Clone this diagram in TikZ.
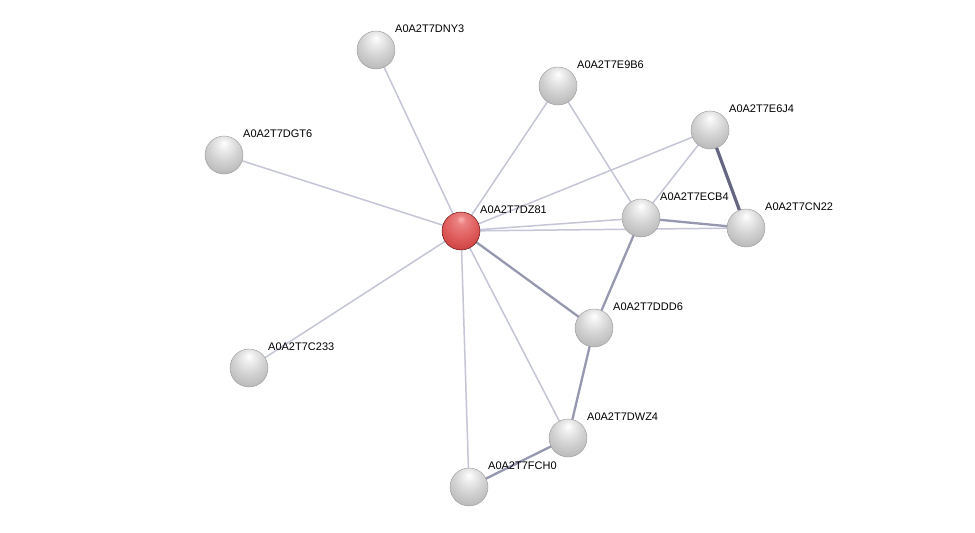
\documentclass[tikz,border=0pt]{standalone}
\usepackage{fontspec}
\setmainfont{Liberation Sans}
\definecolor{elight}{RGB}{196,198,216}
\definecolor{emid}{RGB}{150,152,176}
\definecolor{edark}{RGB}{100,102,130}
\pgfdeclareradialshading{sphgray}{\pgfpoint{0bp}{16bp}}{%
  color(0bp)=(white); color(6bp)=(white!94!black); color(20bp)=(white!82!black);
  color(34bp)=(white!72!black); color(46bp)=(white!58!black); color(56bp)=(white!42!black); color(66bp)=(white!35!black)}
\pgfdeclareradialshading{sphred}{\pgfpoint{0bp}{16bp}}{%
  color(0bp)=(white!70!red); color(6bp)=(white!55!red!92!black); color(20bp)=(white!42!red!88!black);
  color(34bp)=(white!32!red!80!black); color(46bp)=(white!20!red!68!black); color(56bp)=(red!55!black); color(66bp)=(red!45!black)}
\tikzset{
  prot/.style={circle,minimum size=38pt,inner sep=0pt,shading=sphgray,draw=black!40,line width=0.4pt},
  hub/.style={circle,minimum size=38pt,inner sep=0pt,shading=sphred,draw=red!35!black,line width=0.4pt},
  lab/.style={anchor=base west,font=\fontsize{11}{13}\selectfont,inner sep=0pt},
  e1/.style={draw=elight,line width=1.5pt},
  e2/.style={draw=emid,line width=2.3pt},
  e3/.style={draw=edark,line width=3.2pt}
}
\begin{document}
\begin{tikzpicture}[x=1pt,y=-1pt]
\useasboundingbox[fill=white] (0,0) rectangle (975,533);
\coordinate (DNY3) at (376,50);
\coordinate (E9B6) at (558,86);
\coordinate (E6J4) at (710,130);
\coordinate (DGT6) at (224,155);
\coordinate (DZ81) at (461,231);
\coordinate (ECB4) at (641,218);
\coordinate (CN22) at (746,228);
\coordinate (DDD6) at (594,328);
\coordinate (C233) at (249,368);
\coordinate (DWZ4) at (568,438);
\coordinate (FCH0) at (469,487);
% edges
\draw[e1] (DZ81) -- (DNY3);
\draw[e1] (DZ81) -- (E9B6);
\draw[e1] (DZ81) -- (DGT6);
\draw[e1] (DZ81) -- (C233);
\draw[e1] (DZ81) -- (E6J4);
\draw[e1] (DZ81) -- (ECB4);
\draw[e1] (DZ81) -- (CN22);
\draw[e2] (DZ81) -- (DDD6);
\draw[e1] (DZ81) -- (DWZ4);
\draw[e1] (DZ81) -- (FCH0);
\draw[e1] (E9B6) -- (ECB4);
\draw[e1] (E6J4) -- (ECB4);
\draw[e3] (E6J4) -- (CN22);
\draw[e2] (ECB4) -- (CN22);
\draw[e2] (ECB4) -- (DDD6);
\draw[e2] (DDD6) -- (DWZ4);
\draw[e2] (DWZ4) -- (FCH0);
% nodes
\node[prot] (nDNY3) at (DNY3) {};
\node[prot] (nE9B6) at (E9B6) {};
\node[prot] (nE6J4) at (E6J4) {};
\node[prot] (nDGT6) at (DGT6) {};
\node[hub]  (nDZ81) at (DZ81) {};
\node[prot] (nECB4) at (ECB4) {};
\node[prot] (nCN22) at (CN22) {};
\node[prot] (nDDD6) at (DDD6) {};
\node[prot] (nC233) at (C233) {};
\node[prot] (nDWZ4) at (DWZ4) {};
\node[prot] (nFCH0) at (FCH0) {};
% labels
\node[lab] (lDNY3) at ([shift={(19,-18)}]DNY3) {A0A2T7DNY3};
\node[lab] (lE9B6) at ([shift={(19,-18)}]E9B6) {A0A2T7E9B6};
\node[lab] (lE6J4) at ([shift={(19,-18)}]E6J4) {A0A2T7E6J4};
\node[lab] (lDGT6) at ([shift={(19,-18)}]DGT6) {A0A2T7DGT6};
\node[lab] (lDZ81) at ([shift={(19,-18)}]DZ81) {A0A2T7DZ81};
\node[lab] (lECB4) at ([shift={(19,-18)}]ECB4) {A0A2T7ECB4};
\node[lab] (lCN22) at ([shift={(19,-18)}]CN22) {A0A2T7CN22};
\node[lab] (lDDD6) at ([shift={(19,-18)}]DDD6) {A0A2T7DDD6};
\node[lab] (lC233) at ([shift={(19,-18)}]C233) {A0A2T7C233};
\node[lab] (lDWZ4) at ([shift={(19,-18)}]DWZ4) {A0A2T7DWZ4};
\node[lab] (lFCH0) at ([shift={(19,-18)}]FCH0) {A0A2T7FCH0};
\end{tikzpicture}
\end{document}
